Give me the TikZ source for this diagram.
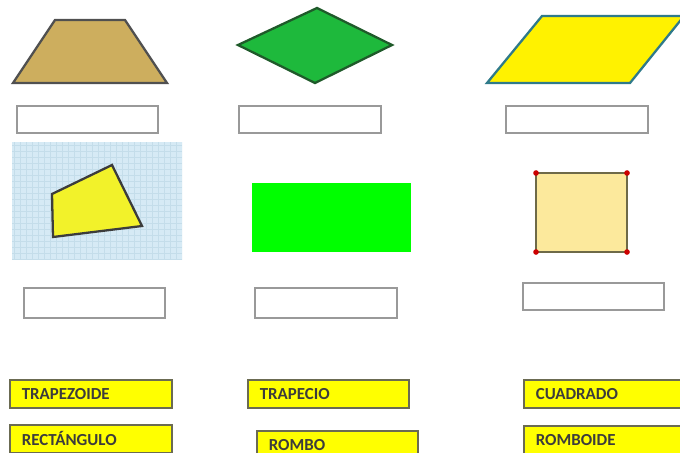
\documentclass[tikz,border=0pt]{standalone}
\usepackage{fontspec}
\setsansfont{Carlito}
\usepackage{xcolor}
\usepackage{tikz}
\usetikzlibrary{positioning}
\definecolor{TrapTan}{HTML}{CDAE5E}
\definecolor{RombGreen}{HTML}{1EB93C}
\definecolor{RombEdge}{HTML}{1F5A2A}
\definecolor{ParYellow}{HTML}{FFF200}
\definecolor{ParEdge}{HTML}{2F7A8A}
\definecolor{SkyPaper}{HTML}{D6EAF5}
\definecolor{SkyGrid}{HTML}{C4DDEA}
\definecolor{QuadYellow}{HTML}{F2F22A}
\definecolor{RectGreen}{HTML}{00FF00}
\definecolor{SqCream}{HTML}{FCE99C}
\definecolor{SqEdge}{HTML}{6E6A48}
\definecolor{TagYellow}{HTML}{FFFF00}
\definecolor{TagEdge}{HTML}{6B6B52}
\definecolor{InkGray}{HTML}{3C3C3C}

\begin{document}
\begin{tikzpicture}[x=0.02cm, y=-0.02cm]

%% ── helpers ───────────────────────────────────────────────
\tikzset{
  shape/.style={draw=#1,line width=1.3pt,line join=miter},
  ansbox/.style={rectangle,draw=gray!80,fill=white,line width=1.1pt,
                 anchor=north west,inner sep=0pt,minimum height=0.54cm},
  tag/.style={rectangle,draw=TagEdge,fill=TagYellow,line width=1pt,
              anchor=north west,inner xsep=0.24cm,inner ysep=0pt,
              minimum height=0.56cm,text width=#1,align=left,
              font=\sffamily\bfseries\fontsize{9.6}{10}\selectfont,text=InkGray},
  dot/.style={circle,fill=red!80!black,inner sep=0pt,minimum size=3.2pt},
}

\useasboundingbox (0,0) rectangle (680,453);

%% ── ROW 1 : shapes ───────────────────────────────────────
\filldraw[shape=InkGray!90,fill=TrapTan] (55,20) -- (125,20) -- (167,83) -- (13,83) -- cycle;
\filldraw[shape=RombEdge,fill=RombGreen] (238,45) -- (317,8) -- (392,45) -- (315,83) -- cycle;
\begin{scope}
  \clip (0,0) rectangle (680,453);
  \filldraw[shape=ParEdge,fill=ParYellow] (542,16) -- (684,16) -- (630,83) -- (487,83) -- cycle;
\end{scope}

%% ── ROW 1 : answer boxes ──
\node[ansbox,minimum width=2.82cm] (ans1) at (16,105) {};
\node[ansbox,minimum width=2.84cm] (ans2) at (238,105) {};
\node[ansbox,minimum width=2.84cm] (ans3) at (505,105) {};

%% ── ROW 2 : shapes ───────────────────────────────────────
\fill[SkyPaper] (12,142) rectangle (182,260);
\begin{scope}
  \clip (12,142) rectangle (182,260);
  \foreach \x in {14,20,...,182}
    \draw[SkyGrid,line width=0.2pt] (\x,142) -- (\x,260);
  \foreach \y in {145,151,...,260}
    \draw[SkyGrid,line width=0.2pt] (12,\y) -- (182,\y);
\end{scope}
\filldraw[shape=InkGray,fill=QuadYellow] (52,194) -- (112,165) -- (142,226) -- (53,237) -- cycle;

\fill[RectGreen] (252,183) rectangle (411,252);

\filldraw[shape=SqEdge,fill=SqCream,line width=1pt] (536,173) rectangle (627,252);
\foreach \p/\q in {536/173,627/173,627/252,536/252}
  \node[dot] (c\p\q) at (\p,\q) {};

%% ── ROW 2 : answer boxes ──
\node[ansbox,minimum width=2.82cm,minimum height=0.6cm] (ans4) at (23,287) {};
\node[ansbox,minimum width=2.84cm,minimum height=0.6cm] (ans5) at (254,287) {};
\node[ansbox,minimum width=2.82cm] (ans6) at (522,282) {};

%% ── NAME TAGS ────────────────────────────────────────────
\node[tag=2.76cm] (trapezoide) at (9,379)   {TRAPEZOIDE};
\node[tag=2.74cm] (trapecio)   at (247,379) {TRAPECIO};
\node[tag=2.66cm] (cuadrado)   at (523,379) {CUADRADO};
\node[tag=2.76cm] (rectangulo) at (9,424)   {RECTÁNGULO};
\node[tag=2.74cm] (rombo)      at (256,430) {ROMBO};
\node[tag=2.66cm] (romboide)   at (523,425) {ROMBOIDE};

\end{tikzpicture}
\end{document}
